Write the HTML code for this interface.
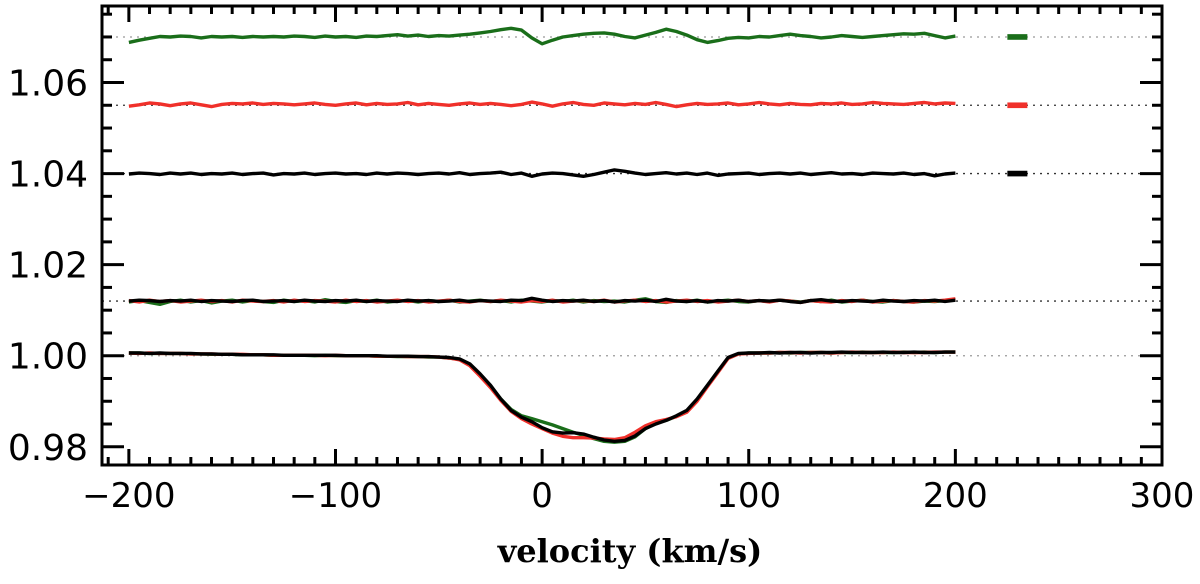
<!DOCTYPE html>
<html><head><meta charset="utf-8"><style>
html,body{margin:0;padding:0;background:#fff;width:1200px;height:584px;overflow:hidden}
svg text{font-family:"DejaVu Sans","Liberation Sans",sans-serif}
</style></head><body>
<svg id="chart" width="1200" height="584" viewBox="0 0 1200 584" xmlns="http://www.w3.org/2000/svg">
<g id="grid"></g>
<g id="series"></g>
<g id="axes"></g>
<text x="630" y="562" text-anchor="middle" font-weight="bold" font-size="32" style="font-family:'DejaVu Serif','Liberation Serif',serif">velocity (km/s)</text>
</svg>
<script>
const vStart = -200, vStep = 5;
const xTicks = [-200, -100, 0, 100, 200, 300];
const xTickLabels = ["\u2212200", "\u2212100", "0", "100", "200", "300"];
const yTicks = [0.98, 1.00, 1.02, 1.04, 1.06];
const yTickLabels = ["0.98", "1.00", "1.02", "1.04", "1.06"];
const refLevels = [1.070, 1.055, 1.040, 1.012, 1.000];

const profileBlack = [1.0006,1.0006,1.0005,1.0006,1.0005,1.0005,1.0005,1.0004,1.0004,1.0003,1.0003,1.0002,1.0002,1.0002,1.0002,1.0001,1.0001,1.0001,1.0001,1.0001,1.0001,1.0000,1.0000,1.0000,1.0000,0.9999,0.9999,0.9999,0.9998,0.9998,0.9997,0.9996,
0.9993,0.9982,0.9960,0.9935,0.9905,0.9880,0.9865,0.9855,0.9842,0.9833,0.9830,0.9831,0.9828,0.9821,0.9815,0.9812,0.9814,0.9824,0.9840,0.9850,0.9858,0.9868,0.9880,0.9905,0.9935,0.9966,0.9996,1.0005,
1.0006,1.0006,1.0007,1.0006,1.0007,1.0007,1.0006,1.0007,1.0007,1.0008,1.0007,1.0007,1.0007,1.0008,1.0007,1.0007,1.0008,1.0007,1.0007,1.0008,1.0008];
const profileRed = [1.0006,1.0005,1.0006,1.0005,1.0005,1.0005,1.0004,1.0004,1.0004,1.0003,1.0003,1.0003,1.0002,1.0002,1.0001,1.0001,1.0001,1.0001,1.0001,1.0000,1.0001,1.0000,1.0000,1.0000,0.9999,0.9999,0.9999,0.9998,0.9998,0.9998,0.9997,0.9995,
0.9991,0.9978,0.9955,0.9930,0.9902,0.9878,0.9862,0.9850,0.9840,0.9830,0.9823,0.9820,0.9820,0.9819,0.9817,0.9816,0.9820,0.9832,0.9846,0.9855,0.9860,0.9866,0.9876,0.9900,0.9932,0.9963,0.9994,1.0004,
1.0005,1.0006,1.0006,1.0007,1.0007,1.0006,1.0007,1.0007,1.0006,1.0007,1.0008,1.0007,1.0007,1.0007,1.0008,1.0007,1.0007,1.0007,1.0008,1.0008,1.0008];
const profileGreen = [1.0006,1.0006,1.0005,1.0005,1.0005,1.0005,1.0004,1.0004,1.0003,1.0003,1.0003,1.0002,1.0002,1.0002,1.0001,1.0001,1.0001,1.0001,1.0000,1.0001,1.0000,1.0000,1.0000,1.0000,0.9999,0.9999,0.9998,0.9998,0.9998,0.9997,0.9997,0.9995,
0.9992,0.9980,0.9958,0.9933,0.9905,0.9882,0.9868,0.9862,0.9855,0.9848,0.9840,0.9832,0.9825,0.9818,0.9812,0.9810,0.9812,0.9822,0.9840,0.9852,0.9858,0.9867,0.9878,0.9903,0.9934,0.9965,0.9995,1.0004,
1.0006,1.0006,1.0006,1.0007,1.0006,1.0007,1.0007,1.0007,1.0006,1.0007,1.0007,1.0008,1.0007,1.0007,1.0007,1.0008,1.0007,1.0008,1.0007,1.0008,1.0008];

const resGreenTop = [1.0688,1.0693,1.0697,1.0701,1.0700,1.0702,1.0701,1.0698,1.0701,1.0700,1.0701,1.0699,1.0701,1.0700,1.0701,1.0700,1.0702,1.0701,1.0699,1.0702,1.0700,1.0701,1.0699,1.0702,1.0701,1.0703,1.0705,1.0702,1.0704,1.0701,1.0703,1.0702,1.0704,1.0706,1.0709,1.0712,1.0716,1.0719,1.0715,1.0698,1.0685,1.0693,1.0700,1.0703,1.0706,1.0708,1.0709,1.0706,1.0701,1.0698,1.0704,1.0710,1.0717,1.0712,1.0704,1.0694,1.0688,1.0692,1.0697,1.0699,1.0698,1.0701,1.0700,1.0703,1.0706,1.0703,1.0701,1.0698,1.0700,1.0703,1.0701,1.0699,1.0701,1.0703,1.0705,1.0707,1.0706,1.0708,1.0703,1.0698,1.0702];
const resRedMid = [1.0548,1.0551,1.0555,1.0553,1.0549,1.0553,1.0555,1.0551,1.0547,1.0552,1.0554,1.0553,1.0555,1.0552,1.0554,1.0553,1.0551,1.0553,1.0555,1.0552,1.0550,1.0553,1.0555,1.0551,1.0554,1.0552,1.0553,1.0556,1.0551,1.0554,1.0552,1.0550,1.0553,1.0555,1.0552,1.0554,1.0552,1.0549,1.0552,1.0557,1.0553,1.0548,1.0553,1.0556,1.0552,1.0550,1.0555,1.0553,1.0551,1.0554,1.0552,1.0556,1.0552,1.0547,1.0551,1.0554,1.0552,1.0553,1.0555,1.0551,1.0553,1.0556,1.0553,1.0551,1.0554,1.0552,1.0551,1.0554,1.0553,1.0555,1.0552,1.0553,1.0556,1.0554,1.0553,1.0552,1.0554,1.0556,1.0553,1.0555,1.0554];
const resBlackMid = [1.0399,1.0401,1.0400,1.0398,1.0401,1.0399,1.0401,1.0398,1.0400,1.0399,1.0401,1.0398,1.0400,1.0401,1.0397,1.0400,1.0399,1.0401,1.0398,1.0400,1.0401,1.0399,1.0400,1.0398,1.0401,1.0399,1.0401,1.0400,1.0398,1.0400,1.0401,1.0399,1.0402,1.0398,1.0400,1.0401,1.0403,1.0398,1.0401,1.0394,1.0399,1.0401,1.0400,1.0397,1.0394,1.0398,1.0403,1.0408,1.0405,1.0401,1.0398,1.0400,1.0402,1.0399,1.0401,1.0398,1.0401,1.0396,1.0399,1.0400,1.0401,1.0398,1.0400,1.0401,1.0399,1.0401,1.0398,1.0400,1.0402,1.0399,1.0400,1.0398,1.0401,1.0400,1.0399,1.0401,1.0398,1.0400,1.0395,1.0399,1.0401];
const resGreenLow = [1.0118,1.0121,1.0117,1.0113,1.0119,1.0122,1.0118,1.0121,1.0116,1.0120,1.0122,1.0118,1.0121,1.0119,1.0117,1.0122,1.0119,1.0121,1.0118,1.0123,1.0119,1.0117,1.0121,1.0119,1.0122,1.0118,1.0120,1.0121,1.0118,1.0121,1.0119,1.0122,1.0118,1.0120,1.0122,1.0119,1.0121,1.0118,1.0122,1.0120,1.0118,1.0121,1.0119,1.0122,1.0118,1.0121,1.0119,1.0120,1.0118,1.0122,1.0125,1.0119,1.0117,1.0121,1.0119,1.0122,1.0118,1.0120,1.0122,1.0119,1.0118,1.0121,1.0119,1.0122,1.0120,1.0118,1.0121,1.0119,1.0122,1.0118,1.0120,1.0122,1.0119,1.0118,1.0121,1.0119,1.0118,1.0120,1.0119,1.0121,1.0123];
const resRedLow = [1.0121,1.0118,1.0122,1.0119,1.0121,1.0118,1.0120,1.0122,1.0119,1.0121,1.0118,1.0122,1.0120,1.0119,1.0121,1.0118,1.0122,1.0119,1.0121,1.0120,1.0118,1.0122,1.0119,1.0121,1.0118,1.0120,1.0122,1.0119,1.0121,1.0118,1.0120,1.0122,1.0119,1.0118,1.0121,1.0119,1.0122,1.0120,1.0118,1.0121,1.0119,1.0122,1.0118,1.0120,1.0121,1.0119,1.0122,1.0118,1.0120,1.0122,1.0119,1.0121,1.0118,1.0120,1.0122,1.0119,1.0121,1.0118,1.0120,1.0122,1.0119,1.0121,1.0118,1.0122,1.0120,1.0117,1.0121,1.0119,1.0118,1.0121,1.0119,1.0122,1.0118,1.0120,1.0121,1.0119,1.0118,1.0121,1.0120,1.0122,1.0125];
const resBlackLow = [1.0120,1.0122,1.0121,1.0119,1.0121,1.0120,1.0122,1.0119,1.0121,1.0120,1.0119,1.0121,1.0122,1.0119,1.0120,1.0121,1.0119,1.0122,1.0120,1.0119,1.0121,1.0120,1.0122,1.0119,1.0121,1.0120,1.0119,1.0122,1.0120,1.0121,1.0119,1.0120,1.0122,1.0119,1.0121,1.0120,1.0119,1.0122,1.0121,1.0126,1.0122,1.0119,1.0121,1.0120,1.0122,1.0119,1.0121,1.0118,1.0121,1.0120,1.0122,1.0119,1.0124,1.0120,1.0119,1.0121,1.0118,1.0121,1.0120,1.0122,1.0119,1.0121,1.0120,1.0122,1.0119,1.0117,1.0121,1.0123,1.0120,1.0119,1.0121,1.0120,1.0119,1.0122,1.0120,1.0119,1.0121,1.0120,1.0122,1.0119,1.0122];

const errV = 230;
const errCenters = [1.070, 1.055, 1.040];
const errHalf = [0.0004, 0.0004, 0.0004];

const L = 102, R = 1162, T = 6, B = 465;
const xMin = -213, xMax = 300, yMin = 0.976, yMax = 1.0768;
function sx(v){ return L + (v - xMin) / (xMax - xMin) * (R - L); }
function sy(v){ return B - (v - yMin) / (yMax - yMin) * (B - T); }
const NS = "http://www.w3.org/2000/svg";
function mk(tag, parent){ const e = document.createElementNS(NS, tag); document.getElementById(parent).appendChild(e); return e; }

refLevels.forEach((lv, i) => {
  const l = mk("line", "grid");
  
  
  l.setAttribute("x1", L); l.setAttribute("x2", R);
  l.setAttribute("y1", sy(lv)); l.setAttribute("y2", sy(lv));
  l.setAttribute("stroke", lv === 1.0 || lv === 1.07 ? "#999" : "#333");
  l.setAttribute("stroke-width", "1.3");
  l.setAttribute("stroke-dasharray", "2 5");
});

function drawSeries(vals, color, name){
  const p = mk("polyline", "series");
  
  
  p.setAttribute("points", vals.map((v, i) => sx(vStart + i * vStep).toFixed(1) + "," + sy(v).toFixed(1)).join(" "));
  p.setAttribute("fill", "none"); p.setAttribute("stroke", color);
  p.setAttribute("stroke-width", "3.4"); p.setAttribute("stroke-linejoin", "round");
}
const G = "#1a6e1a", RD = "#f0302a", K = "#000";
drawSeries(resGreenTop, G, "residual-green-top");
drawSeries(resRedMid, RD, "residual-red-mid");
drawSeries(resBlackMid, K, "residual-black-mid");
drawSeries(resGreenLow, G, "residual-green-low");
drawSeries(resRedLow, RD, "residual-red-low");
drawSeries(resBlackLow, K, "residual-black-low");
drawSeries(profileGreen, G, "profile-green");
drawSeries(profileRed, RD, "profile-red");
drawSeries(profileBlack, K, "profile-black");

const errColors = [G, RD, K];
const errNames = ["error-bar-green", "error-bar-red", "error-bar-black"];
errCenters.forEach((c, i) => {
  const r = mk("rect", "series");
  
  
  const y1 = sy(c + errHalf[i]), y2 = sy(c - errHalf[i]);
  r.setAttribute("x", sx(errV) - 10); r.setAttribute("width", 20);
  r.setAttribute("y", y1 - 1); r.setAttribute("height", y2 - y1 + 2);
  r.setAttribute("fill", errColors[i]);
});

const fr = mk("rect", "axes");


fr.setAttribute("x", L); fr.setAttribute("y", T); fr.setAttribute("width", R - L); fr.setAttribute("height", B - T);
fr.setAttribute("fill", "none"); fr.setAttribute("stroke", "#000"); fr.setAttribute("stroke-width", "3");

function tick(x1, y1, x2, y2){
  const t = mk("line", "axes");
  
  
  t.setAttribute("x1", x1); t.setAttribute("y1", y1); t.setAttribute("x2", x2); t.setAttribute("y2", y2);
  t.setAttribute("stroke", "#000"); t.setAttribute("stroke-width", "3");
}
for (let v = -210; v <= 300; v += 10) {
  const major = v % 100 === 0, len = major ? 16 : 8, x = sx(v);
  tick(x, B, x, B - len); tick(x, T, x, T + len);
}
for (let k = 0; k <= 19; k++) {
  const v = 0.98 + k * 0.005, y = sy(v);
  if (y < T || y > B) continue;
  const major = k % 4 === 0, len = major ? 22 : 10;
  tick(L, y, L + len, y); tick(R, y, R - len, y);
}
xTicks.forEach((v, i) => {
  const t = mk("text", "axes");
  
  
  t.setAttribute("x", sx(v)); t.setAttribute("y", 507);
  t.setAttribute("text-anchor", "middle"); t.setAttribute("font-size", "34");
  t.textContent = xTickLabels[i];
});
yTicks.forEach((v, i) => {
  const t = mk("text", "axes");
  
  
  t.setAttribute("x", 88); t.setAttribute("y", sy(v) + 13);
  t.setAttribute("text-anchor", "end"); t.setAttribute("font-size", "36");
  t.textContent = yTickLabels[i];
});
</script>
</body></html>
